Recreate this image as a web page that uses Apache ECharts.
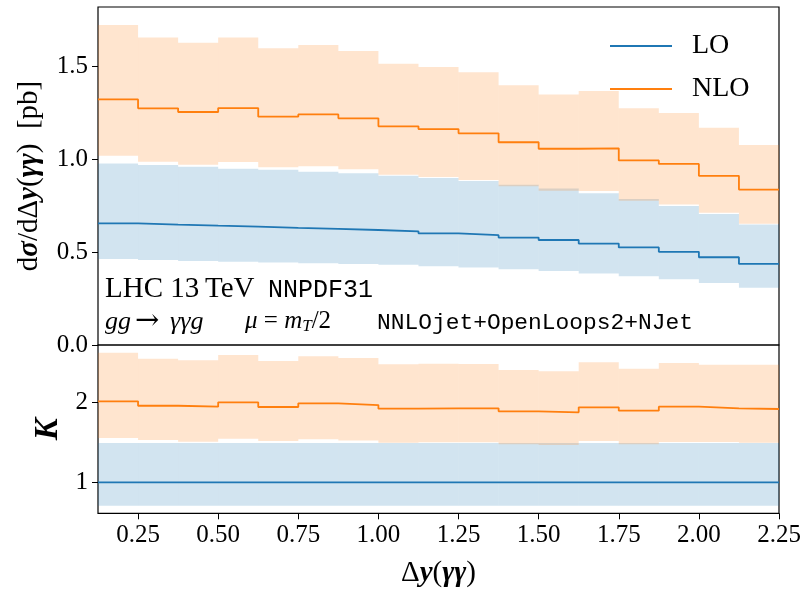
<!DOCTYPE html>
<html>
<head>
<meta charset="utf-8">
<script src="https://cdn.jsdelivr.net/npm/echarts@6/dist/echarts.min.js"></script>
<style>
html,body{margin:0;padding:0;background:#fff;}
#c{width:806px;height:594px;}
</style>
</head>
<body>
<div id="c"></div>
<script>
// ---- data ----
const binEdges = [0.125,0.25,0.375,0.5,0.625,0.75,0.875,1.0,1.125,1.25,1.375,1.5,1.625,1.75,1.875,2.0,2.125,2.25];

const loCentral = [0.656,0.649,0.643,0.638,0.631,0.626,0.620,0.613,0.602,0.592,0.579,0.566,0.547,0.526,0.502,0.473,0.437];
const loUpper   = [0.979,0.970,0.961,0.950,0.945,0.934,0.926,0.913,0.900,0.884,0.864,0.843,0.818,0.787,0.749,0.706,0.649];
const loLower   = [0.464,0.458,0.453,0.449,0.445,0.441,0.437,0.432,0.425,0.418,0.408,0.399,0.386,0.371,0.354,0.334,0.309];

const nloCentral = [1.324,1.276,1.256,1.277,1.231,1.243,1.222,1.179,1.164,1.141,1.093,1.058,1.060,0.995,0.976,0.912,0.838];
const nloUpper   = [1.725,1.658,1.629,1.658,1.599,1.617,1.585,1.516,1.499,1.470,1.400,1.351,1.369,1.276,1.251,1.171,1.078];
const nloLower   = [1.020,0.988,0.972,0.987,0.958,0.963,0.947,0.918,0.906,0.890,0.856,0.832,0.830,0.778,0.757,0.713,0.654];

const kLoCentral = [1,1,1,1,1,1,1,1,1,1,1,1,1,1,1,1,1];
const kLoUpper   = [1.494,1.494,1.494,1.494,1.494,1.494,1.494,1.494,1.494,1.494,1.494,1.494,1.494,1.494,1.494,1.494,1.494];
const kLoLower   = [0.706,0.706,0.706,0.706,0.706,0.706,0.706,0.706,0.706,0.706,0.706,0.706,0.706,0.706,0.706,0.706,0.706];

const kNloCentral = [2.018,1.962,1.950,2.005,1.946,1.992,1.971,1.925,1.930,1.930,1.892,1.879,1.942,1.900,1.950,1.930,1.921];
const kNloUpper   = [2.628,2.553,2.533,2.599,2.524,2.583,2.562,2.482,2.490,2.486,2.411,2.394,2.508,2.428,2.499,2.478,2.478];
const kNloLower   = [1.557,1.531,1.510,1.548,1.519,1.540,1.527,1.498,1.505,1.503,1.478,1.470,1.518,1.479,1.508,1.507,1.497];

const xTickValues = [0.25,0.5,0.75,1.0,1.25,1.5,1.75,2.0,2.25];
const yTopTickValues = [0.0,0.5,1.0,1.5];
const yBottomTickValues = [1,2];

// ---- styling ----
const C_LO = '#1f77b4';
const C_NLO = '#ff7f0e';
const F_LO = 'rgba(31,119,180,0.2)';
const F_NLO = 'rgba(255,127,14,0.2)';
const SERIF = '"Liberation Serif", "DejaVu Serif", serif';
const MONO = '"Liberation Mono", "DejaVu Sans Mono", monospace';

function stepData(vals){
  return binEdges.map((e,i)=>[e, vals[Math.min(i, vals.length-1)]]);
}
function bandData(lo, hi){
  return lo.map((v,i)=>[binEdges[i], binEdges[i+1], v, hi[i]]);
}
function bandSeries(name, xi, yi, lo, hi, fill){
  return {
    type:'custom', name:name, xAxisIndex:xi, yAxisIndex:yi, z:1,
    silent:true,
    encode:{x:[0,1], y:[2,3]},
    data: bandData(lo, hi),
    renderItem:function(params, api){
      const p0 = api.coord([api.value(0), api.value(3)]);
      const p1 = api.coord([api.value(1), api.value(2)]);
      return {type:'rect', shape:{x:p0[0], y:p0[1], width:p1[0]-p0[0], height:p1[1]-p0[1]},
              style:{fill:fill}};
    }
  };
}
function lineSeries(name, xi, yi, vals, color){
  return {
    type:'line', name:name, xAxisIndex:xi, yAxisIndex:yi, step:'end', z:3,
    symbol:'none', data: stepData(vals), silent:true,
    lineStyle:{color:color, width:1.8}, itemStyle:{color:color}
  };
}

const tickLabel = {fontFamily:SERIF, fontSize:25, color:'#000'};
const tick = {show:true, inside:false, length:6, lineStyle:{color:'#000', width:1}};

const chart = echarts.init(document.getElementById('c'), null, {renderer:'canvas'});
const option = {
  animation:false,
  backgroundColor:'#fff',
  grid:[
    {left:98, top:7, width:681, height:338, show:true, borderColor:'#000', borderWidth:1.2, backgroundColor:'transparent'},
    {left:98, top:345, width:681, height:168.3, show:true, borderColor:'#000', borderWidth:1.2, backgroundColor:'transparent'}
  ],
  xAxis:[
    {type:'value', gridIndex:0, min:0.125, max:2.25,
     axisLine:{show:false}, axisTick:{show:false}, axisLabel:{show:false}, splitLine:{show:false}},
    {type:'value', gridIndex:1, min:0.125, max:2.25,
     axisLine:{show:false}, splitLine:{show:false},
     axisTick:Object.assign({customValues:xTickValues}, tick),
     axisLabel:Object.assign({customValues:xTickValues, margin:10, formatter:v=>v.toFixed(2)}, tickLabel),
     name:'{r|Δ}{b|y}{r|(}{b|γγ}{r|)}', nameLocation:'middle', nameGap:46,
     nameTextStyle:{rich:{
       r:{fontFamily:SERIF, fontSize:29, color:'#000'},
       b:{fontFamily:SERIF, fontSize:29, fontStyle:'italic', fontWeight:'bold', color:'#000'}
     }}}
  ],
  yAxis:[
    {type:'value', gridIndex:0, min:0, max:1.822,
     axisLine:{show:false}, splitLine:{show:false},
     axisTick:Object.assign({customValues:yTopTickValues}, tick),
     axisLabel:Object.assign({customValues:yTopTickValues, margin:10, formatter:v=>v.toFixed(1)}, tickLabel),
     name:'{r|d}{b|σ}{r|/d}{r|Δ}{b|y}{r|(}{b|γγ}{r|)  [pb]}', nameLocation:'middle', nameGap:54, nameRotate:90,
     nameTextStyle:{rich:{
       r:{fontFamily:SERIF, fontSize:29, color:'#000'},
       b:{fontFamily:SERIF, fontSize:29, fontStyle:'italic', fontWeight:'bold', color:'#000'}
     }}},
    {type:'value', gridIndex:1, min:0.611, max:2.725,
     axisLine:{show:false}, splitLine:{show:false},
     axisTick:Object.assign({customValues:yBottomTickValues}, tick),
     axisLabel:Object.assign({customValues:yBottomTickValues, margin:10, formatter:v=>String(v)}, tickLabel),
     name:'K', nameLocation:'middle', nameGap:29, nameRotate:90,
     nameTextStyle:{fontFamily:SERIF, fontSize:33, fontStyle:'italic', fontWeight:'bold', color:'#000'}}
  ],
  legend:{
    orient:'vertical', left:605, top:26, itemWidth:62, itemHeight:2, itemGap:13,
    icon:'rect', data:['LO','NLO'],
    textStyle:{fontFamily:SERIF, fontSize:28, color:'#000', lineHeight:30, padding:[0,0,0,15]}
  },
  graphic:[
    {type:'text', left:105, top:275, silent:true,
     style:{text:'LHC 13\u2009TeV', font:'29px "Liberation Serif", serif', fill:'#000'}},
    {type:'text', left:268, top:278, silent:true,
     style:{text:'NNPDF31', font:'25px "Liberation Mono", monospace', fill:'#000'}},
    {type:'text', left:105, top:309, silent:true,
     style:{text:'gg', font:'italic 26px "Liberation Serif", serif', fill:'#000'}},
    {type:'text', left:135, top:307, silent:true,
     style:{text:'→', font:'29px "DejaVu Serif", serif', fill:'#000'}},
    {type:'text', left:170, top:309, silent:true,
     style:{text:'γγg', font:'italic 26px "Liberation Serif", serif', fill:'#000'}},
    {type:'text', left:245, top:309, silent:true,
     style:{text:'{i|μ}{a| = }{i|m}{s|T}{r|/2}',
       rich:{
         r:{fontFamily:SERIF, fontSize:25, fill:'#000', lineHeight:28},
         i:{fontFamily:SERIF, fontSize:25, fontStyle:'italic', fill:'#000', lineHeight:28},
         a:{fontFamily:SERIF, fontSize:25, fill:'#000', lineHeight:28},
         s:{fontFamily:SERIF, fontSize:17, fontStyle:'italic', fill:'#000', lineHeight:12, verticalAlign:'bottom'}
       }}},
    {type:'text', left:377, top:311, silent:true,
     style:{text:'NNLOjet+OpenLoops2+NJet', font:'22.9px "Liberation Mono", monospace', fill:'#000'}}
  ],
  series:[
    bandSeries('LO band', 0, 0, loLower, loUpper, F_LO),
    bandSeries('NLO band', 0, 0, nloLower, nloUpper, F_NLO),
    lineSeries('LO', 0, 0, loCentral, C_LO),
    lineSeries('NLO', 0, 0, nloCentral, C_NLO),
    bandSeries('K LO band', 1, 1, kLoLower, kLoUpper, F_LO),
    bandSeries('K NLO band', 1, 1, kNloLower, kNloUpper, F_NLO),
    lineSeries('K LO', 1, 1, kLoCentral, C_LO),
    lineSeries('K NLO', 1, 1, kNloCentral, C_NLO)
  ]
};
chart.setOption(option);
</script>
</body>
</html>
